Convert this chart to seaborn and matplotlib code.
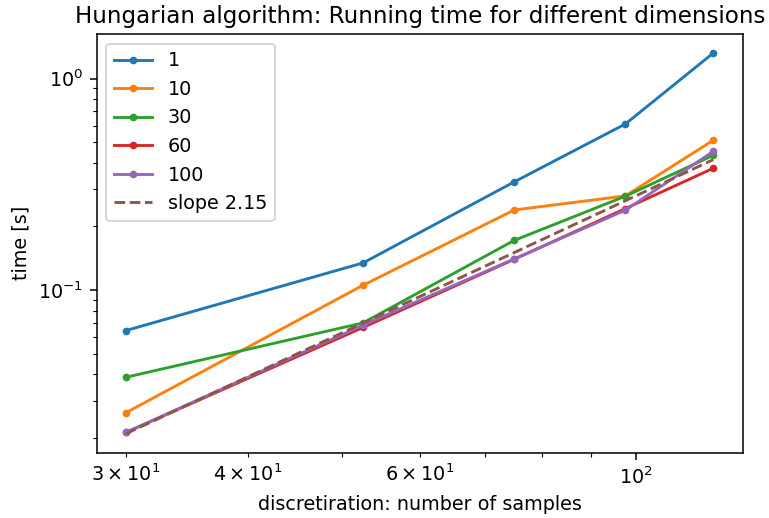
import matplotlib
matplotlib.use("Agg")
import matplotlib.pyplot as plt
import seaborn as sns
import pandas as pd

samples = [30, 52.5, 75, 97.5, 120]
dims = ["1", "10", "30", "60", "100"]
t_1 = [0.0645, 0.1346, 0.325, 0.610, 1.32]
t_10 = [0.0264, 0.1056, 0.2394, 0.2789, 0.511]
t_30 = [0.0388, 0.0701, 0.172, 0.278, 0.434]
t_60 = [0.0213, 0.0667, 0.140, 0.243, 0.377]
t_100 = [0.0213, 0.0684, 0.1406, 0.2388, 0.453]
slope_fit = [0.0210, 0.0700, 0.1506, 0.2647, 0.414]
slope_label = "slope 2.15"

colors = sns.color_palette("tab10")

DPI = 138
fig = plt.figure(figsize=(769 / DPI, 518 / DPI), dpi=DPI)
ax = fig.add_axes([96.7 / 769, 1 - 452.7 / 518, (742.7 - 96.7) / 769, (452.7 - 34) / 518])

series = [t_1, t_10, t_30, t_60, t_100]
for i, (lab, vals) in enumerate(zip(dims, series)):
    df = pd.DataFrame({"x": samples, "y": vals})
    sns.lineplot(data=df, x="x", y="y", ax=ax, color=colors[i], marker="o",
                 markersize=4, markeredgewidth=0, linewidth=1.5, label=lab,
                 estimator=None, sort=False)

df_s = pd.DataFrame({"x": samples, "y": slope_fit})
sns.lineplot(data=df_s, x="x", y="y", ax=ax, color=colors[5], linestyle="--",
             linewidth=1.5, label=slope_label, estimator=None, sort=False)

ax.set_xscale("log")
ax.set_yscale("log")
ax.set_xlabel("discretiration: number of samples")
ax.set_ylabel("time [s]")
ax.set_title("Hungarian algorithm: Running time for different dimensions")
ax.legend(loc="upper left")

fig.savefig("out.png", dpi=DPI)
